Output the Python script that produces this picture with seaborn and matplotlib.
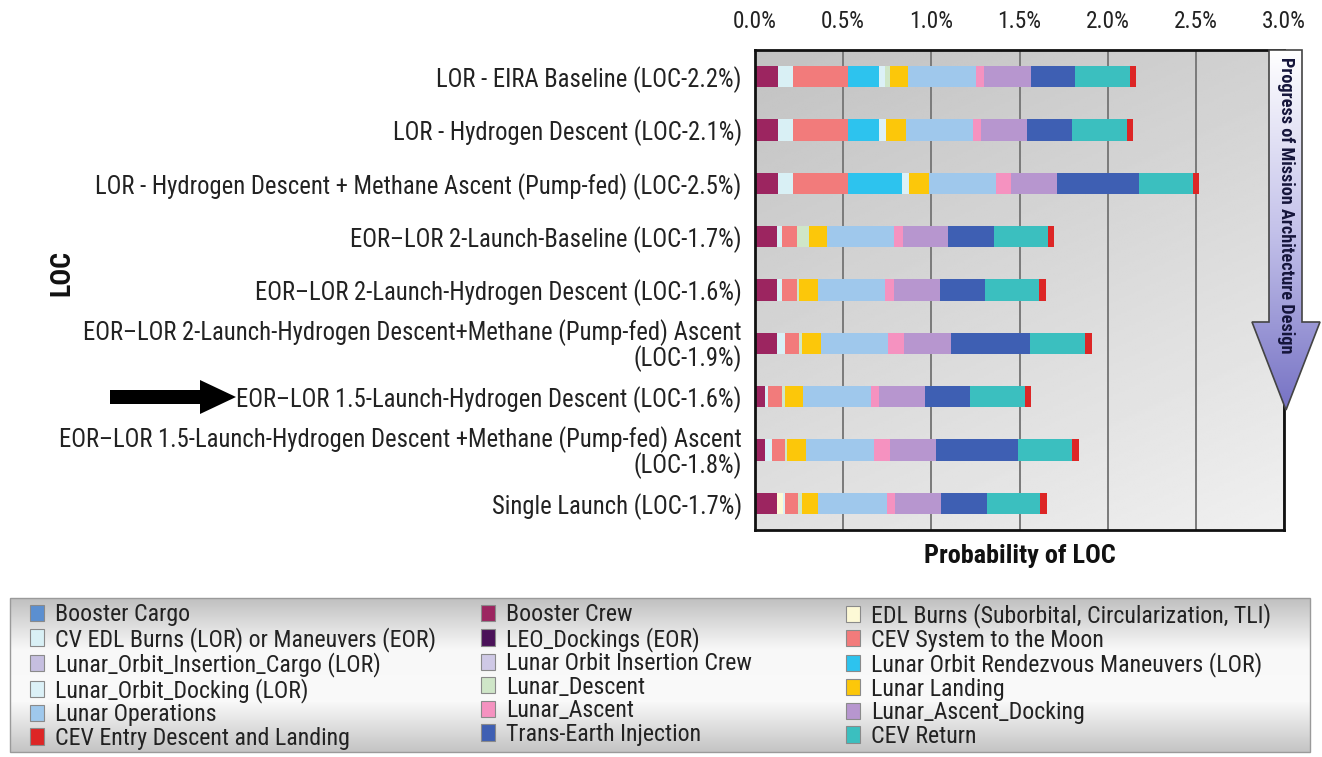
import numpy as np
import pandas as pd
import matplotlib
matplotlib.use("Agg")
import matplotlib.pyplot as plt
import seaborn as sns
from matplotlib import font_manager as fm
from matplotlib.patches import Patch, Polygon, Rectangle
from matplotlib.colors import LinearSegmentedColormap

# scenarios, top to bottom
scenarios = [
    "LOR - EIRA Baseline (LOC-2.2%)",
    "LOR - Hydrogen Descent (LOC-2.1%)",
    "LOR - Hydrogen Descent + Methane Ascent (Pump-fed) (LOC-2.5%)",
    "EOR\u2013LOR 2-Launch-Baseline (LOC-1.7%)",
    "EOR\u2013LOR 2-Launch-Hydrogen Descent (LOC-1.6%)",
    "EOR\u2013LOR 2-Launch-Hydrogen Descent+Methane (Pump-fed) Ascent\n(LOC-1.9%)",
    "EOR\u2013LOR 1.5-Launch-Hydrogen Descent (LOC-1.6%)",
    "EOR\u2013LOR 1.5-Launch-Hydrogen Descent +Methane (Pump-fed) Ascent\n(LOC-1.8%)",
    "Single Launch (LOC-1.7%)",
]

# components in stacking order
components = [
    "Booster Cargo", "Booster Crew", "EDL Burns (Suborbital, Circularization, TLI)",
    "CV EDL Burns (LOR) or Maneuvers (EOR)", "LEO_Dockings (EOR)", "CEV System to the Moon",
    "Lunar_Orbit_Insertion_Cargo (LOR)", "Lunar Orbit Insertion Crew",
    "Lunar Orbit Rendezvous Maneuvers (LOR)", "Lunar_Orbit_Docking (LOR)", "Lunar_Descent",
    "Lunar Landing", "Lunar Operations", "Lunar_Ascent", "Lunar_Ascent_Docking",
    "Trans-Earth Injection", "CEV Return", "CEV Entry Descent and Landing",
]
colors = [
    "#5b8fd0", "#9c2560", "#fdf9d6", "#d9f0f5", "#4b1259", "#f27b7b",
    "#c6bfe0", "#cfc9e6", "#2dc3ee", "#dcf1f7", "#cfe6c8", "#fcc70a",
    "#9fc8ec", "#f592c0", "#b796cf", "#3e5fb3", "#3bbfbf", "#dd2626",
]

# probability of LOC (%) per component, one value per scenario
booster_cargo = [0, 0, 0, 0, 0, 0, 0, 0, 0]
booster_crew = [0.131, 0.131, 0.131, 0.127, 0.127, 0.127, 0.057, 0.057, 0.123]
edl_burns = [0, 0, 0, 0, 0, 0, 0, 0, 0.038]
cv_edl_burns = [0.087, 0.087, 0.087, 0.028, 0.028, 0.044, 0.019, 0.038, 0.009]
leo_dockings = [0, 0, 0, 0, 0, 0, 0, 0, 0]
cev_system = [0.307, 0.307, 0.307, 0.081, 0.081, 0.080, 0.076, 0.076, 0.076]
loi_cargo = [0, 0, 0, 0, 0, 0, 0, 0, 0]
loi_crew = [0, 0, 0, 0, 0, 0, 0, 0, 0]
lor_maneuvers = [0.176, 0.176, 0.307, 0, 0, 0, 0, 0, 0]
lo_docking = [0.038, 0.042, 0.044, 0, 0, 0, 0, 0, 0]
lunar_descent = [0.028, 0, 0, 0.068, 0.015, 0.015, 0.019, 0.013, 0.019]
lunar_landing = [0.102, 0.114, 0.110, 0.106, 0.108, 0.110, 0.100, 0.106, 0.095]
lunar_ops = [0.384, 0.379, 0.383, 0.379, 0.379, 0.377, 0.386, 0.386, 0.388]
lunar_ascent = [0.047, 0.044, 0.081, 0.049, 0.051, 0.091, 0.049, 0.091, 0.047]
ascent_docking = [0.265, 0.265, 0.265, 0.259, 0.261, 0.265, 0.259, 0.259, 0.261]
tei = [0.252, 0.252, 0.464, 0.256, 0.256, 0.451, 0.256, 0.466, 0.259]
cev_return = [0.307, 0.311, 0.303, 0.309, 0.307, 0.313, 0.309, 0.307, 0.303]
cev_edl = [0.038, 0.038, 0.038, 0.036, 0.038, 0.038, 0.038, 0.038, 0.038]

values = [booster_cargo, booster_crew, edl_burns, cv_edl_burns, leo_dockings, cev_system,
          loi_cargo, loi_crew, lor_maneuvers, lo_docking, lunar_descent, lunar_landing,
          lunar_ops, lunar_ascent, ascent_docking, tei, cev_return, cev_edl]

xticks = [0.0, 0.5, 1.0, 1.5, 2.0, 2.5, 3.0]

rows = []
for comp, vals in zip(components, values):
    for s, v in zip(scenarios, vals):
        rows.append({"scenario": s, "component": comp, "value": v})
df = pd.DataFrame(rows)
df["cum"] = df.groupby("scenario", sort=False)["value"].cumsum()

sns.set_style("white")

# look for a narrow font, the original uses a condensed grotesque
entries = fm.fontManager.ttflist
family, stretch = "DejaVu Sans", "normal"
for name in ["Liberation Sans Narrow", "Roboto Condensed", "Open Sans Condensed",
             "Noto Sans Condensed", "DejaVu Sans Condensed", "Arial Narrow"]:
    if any(e.name == name for e in entries):
        family = name
        break
else:
    for name in ["DejaVu Sans", "Noto Sans", "Roboto", "Open Sans", "Liberation Sans"]:
        if any(e.name == name and str(e.stretch) in ("condensed", "semi-condensed", "extra-condensed")
               for e in entries):
            family, stretch = name, "condensed"
            break
plt.rcParams["font.family"] = [family, "DejaVu Sans"]
plt.rcParams["font.stretch"] = stretch

W, H = 1322, 757
fig = plt.figure(figsize=(W / 100, H / 100), dpi=100)
renderer = fig.canvas.get_renderer()


def fit_size(s, target, weight="normal", base=16.0):
    t = fig.text(0, 0, s, fontsize=base, fontweight=weight)
    w = t.get_window_extent(renderer).width
    t.remove()
    return base * target / w


fs_label = fit_size(scenarios[0], 307)
fs_tick = fit_size("0.0%", 44)
fs_xlabel = fit_size("Probability of LOC", 192, "bold")
fs_loc = fit_size("LOC", 46, "bold")
fs_arrow = fit_size("Progress of Mission Architecture Design", 297, "bold")
fs_leg = fit_size(components[3], 383)

ax = fig.add_axes([755 / W, 1 - 530 / H, (1284 - 755) / W, 480 / H])

# stacked bars: draw cumulative totals from the outermost layer inwards
for comp, col in reversed(list(zip(components, colors))):
    sub = df[df["component"] == comp]
    sns.barplot(data=sub, x="cum", y="scenario", order=scenarios, orient="h",
                color=col, saturation=1, width=0.4, linewidth=0, errorbar=None, ax=ax)

# gray gradient background
yy, xx = np.mgrid[0:1:200j, 0:1:200j]
shade = 0.76 + 0.12 * yy + 0.06 * xx
ax.imshow(shade, extent=[0, 1, 0, 1], transform=ax.transAxes, aspect="auto",
          cmap="gray", vmin=0, vmax=1, zorder=0.1)

ax.set_xlim(0, 3)
ax.set_ylim(8.5, -0.5)
ax.set_xticks(xticks)
ax.set_xticklabels([f"{t:.1f}%" for t in xticks])
ax.get_xticklabels()[0].set_ha("left")
ax.xaxis.tick_top()
ax.xaxis.set_label_position("bottom")
ax.grid(axis="x", color="#7a7a7a", lw=1.4)
ax.grid(axis="y", visible=False)
ax.set_axisbelow(True)
ax.tick_params(axis="x", length=0, pad=12, labelsize=fs_tick, colors="#222222")
ax.tick_params(axis="y", length=0, pad=9.5, labelsize=fs_label, colors="#222222")
for lbl in ax.get_yticklabels():
    lbl.set_linespacing(0.95)
for sp in ax.spines.values():
    sp.set_visible(True)
    sp.set_color("#111111")
    sp.set_linewidth(2)
ax.set_ylabel("")
ax.set_xlabel("Probability of LOC", fontsize=fs_xlabel, fontweight="bold", labelpad=10,
              color="#111111")

fig.text(62 / W, 1 - 273 / H, "LOC", rotation=90, ha="center", va="center",
         fontsize=fs_loc, fontweight="bold", color="#111111")

# overlay for decorations
ov = fig.add_axes([0, 0, 1, 1], zorder=2)
ov.patch.set_alpha(0)

# progress arrow on the right
pts = [(1269, 50), (1302, 50), (1302, 322), (1320, 322), (1286, 410), (1252, 322), (1269, 322)]
arrow = Polygon(pts, closed=True, fc="none", ec="#444444", lw=1.2, zorder=3)
ov.add_patch(arrow)
acmap = LinearSegmentedColormap.from_list("arr", ["#ffffff", "#c4c2ea", "#7672c4"])
im = ov.imshow(np.linspace(0, 1, 256).reshape(-1, 1), extent=[1252, 1320, 410, 50],
               cmap=acmap, aspect="auto", zorder=2)
im.set_clip_path(arrow)
ov.text(1286, 57, "Progress of Mission Architecture Design", rotation=-90, ha="center",
        va="top", fontsize=fs_arrow, fontweight="bold", color="#15153a", zorder=4)

# black pointer arrow
ov.add_patch(Polygon([(110, 390), (200, 390), (200, 380), (236, 397), (200, 414),
                      (200, 404), (110, 404)], closed=True, fc="black", ec="none"))

# legend box with gradient
lbox = Rectangle((10, 598), 1300, 154, fc="none", ec="#9a9a9a", lw=1, zorder=3)
ov.add_patch(lbox)
lcmap = LinearSegmentedColormap.from_list("lg", ["#c0c0c0", "#f8f8f8", "#fafafa", "#c4c4c4"])
lim = ov.imshow(np.linspace(0, 1, 256).reshape(-1, 1), extent=[10, 1310, 752, 598],
                cmap=lcmap, aspect="auto", zorder=1)
lim.set_clip_path(lbox)

ov.set_xlim(0, W)
ov.set_ylim(H, 0)
ov.axis("off")

# legend: three columns, row pitch about 25 px
fs_px = fs_leg * 100 / 72
t = fig.text(0, 0, "Booster Cargo", fontsize=fs_leg)
line_h = t.get_window_extent(renderer).height
t.remove()
spacing = max(0.0, (23.6 - line_h) / fs_px)
legend_cols = [[0, 3, 6, 9, 12, 17], [1, 4, 7, 10, 13, 15], [2, 5, 8, 11, 14, 16]]
col_x = [30, 481, 846]
for idx, x0 in zip(legend_cols, col_x):
    handles = [Patch(fc=colors[i], ec="#8a8a8a", lw=0.8) for i in idx]
    labels = [components[i] for i in idx]
    fig.legend(handles, labels, loc="upper left", bbox_to_anchor=(x0 / W, 1 - 603 / H),
               frameon=False, fontsize=fs_leg, handlelength=14 / fs_px, handleheight=16 / fs_px,
               handletextpad=11 / fs_px, labelspacing=spacing, borderpad=0, borderaxespad=0,
               labelcolor="#222222")

fig.savefig("out.png", dpi=100, facecolor="white")
